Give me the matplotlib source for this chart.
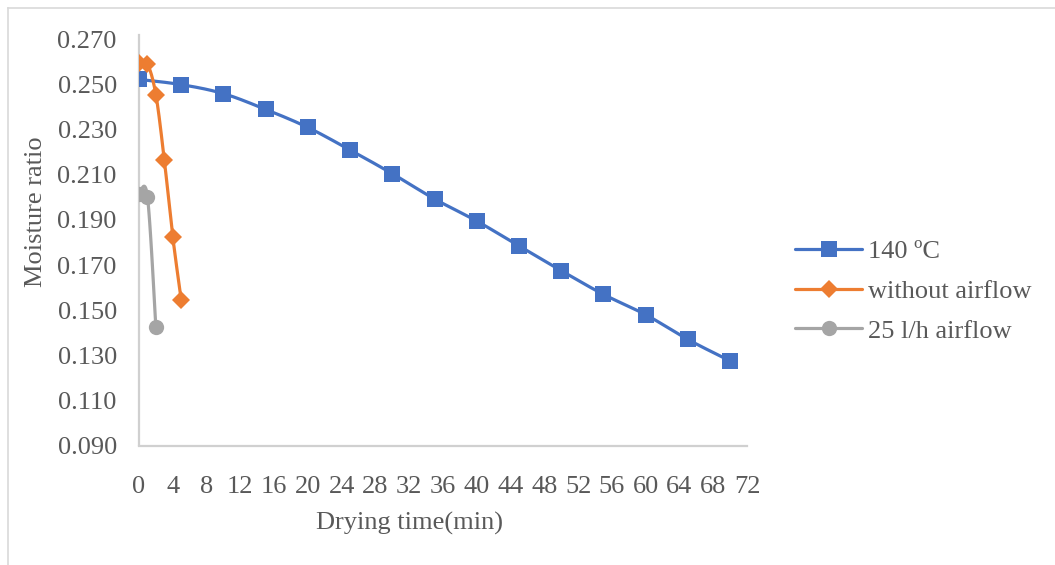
import numpy as np
import matplotlib
matplotlib.use("Agg")
import matplotlib.pyplot as plt
from matplotlib.lines import Line2D

# ---- data ----
t_140 = [0, 5, 10, 15, 20, 25, 30, 35, 40, 45, 50, 55, 60, 65, 70]
mr_140 = [0.2523, 0.2500, 0.2460, 0.2390, 0.2310, 0.2210, 0.2105, 0.1993,
          0.1895, 0.1785, 0.1675, 0.1570, 0.1480, 0.1370, 0.1275]
t_noair = [0, 1, 2, 3, 4, 5]
mr_noair = [0.2594, 0.2590, 0.2455, 0.2165, 0.1825, 0.1545]
t_air25 = [0, 1, 2]
mr_air25 = [0.2015, 0.2003, 0.1425]
series_labels = ["140 ºC", "without airflow", "25 l/h airflow"]
x_ticks = list(range(0, 73, 4))
y_ticks = [0.090, 0.110, 0.130, 0.150, 0.170, 0.190, 0.210, 0.230, 0.250, 0.270]

colors = ["#4472C4", "#ED7D31", "#A5A5A5"]
markers = ["s", "D", "o"]
msizes = [11, 9.5, 11]
text_color = "#595959"
axis_color = "#D0D0D0"

plt.rcParams["font.family"] = ["Liberation Serif", "DejaVu Serif"]
FS = 19


def smooth(xs, ys, n=30):
    """Excel-like smoothed line: cubic Bezier through points (Catmull-Rom tangents)."""
    P = np.column_stack([xs, ys]).astype(float)
    m = len(P)
    out = [P[0]]
    for i in range(m - 1):
        p0 = P[i - 1] if i > 0 else P[i]
        p1 = P[i]
        p2 = P[i + 1]
        p3 = P[i + 2] if i + 2 < m else P[i + 1]
        c1 = p1 + (p2 - p0) / 6.0
        c2 = p2 - (p3 - p1) / 6.0
        tt = np.linspace(0, 1, n)[1:, None]
        seg = ((1 - tt) ** 3) * p1 + 3 * ((1 - tt) ** 2) * tt * c1 + 3 * (1 - tt) * tt ** 2 * c2 + tt ** 3 * p2
        out.extend(seg)
    out = np.array(out)
    return out[:, 0], out[:, 1]


fig = plt.figure(figsize=(10.55, 5.65), dpi=100)
ax = fig.add_axes([139 / 1055, 1 - 445.5 / 565, (747 - 139) / 1055, (445.5 - 39.5) / 565])

data = [(t_140, mr_140), (t_noair, mr_noair), (t_air25, mr_air25)]
handles = []
for (xs, ys), c, mk, ms, lab in zip(data, colors, markers, msizes, series_labels):
    sx, sy = smooth(xs, ys)
    ax.plot(sx, sy, color=c, lw=2.3, solid_capstyle="round", zorder=3)
    ax.plot(xs, ys, linestyle="none", marker=mk, markersize=ms, color=c,
            markeredgewidth=0, zorder=4)
    handles.append(Line2D([], [], color=c, lw=2.3, marker=mk, markersize=ms,
                          markeredgewidth=0, solid_capstyle="round"))

ax.set_xlim(0, 72)
ax.set_ylim(0.09, 0.27)
ax.set_xticks(x_ticks)
ax.set_xticklabels([str(v) for v in x_ticks])
ax.set_yticks(y_ticks)
ax.set_yticklabels([f"{v:.3f}" for v in y_ticks])
ax.tick_params(axis="both", length=0, labelsize=FS, colors=text_color)
ax.tick_params(axis="x", pad=22)
ax.tick_params(axis="y", pad=16)
for s in ["top", "right"]:
    ax.spines[s].set_visible(False)
for s in ["left", "bottom"]:
    ax.spines[s].set_color(axis_color)
    ax.spines[s].set_linewidth(1.6)
ax.spines["left"].set_bounds(0.09, 0.272)
ax.patch.set_alpha(0)

ax.set_xlabel("Drying time(min)", fontsize=FS, color=text_color)
ax.xaxis.set_label_coords((410 - 139) / 608, (445.5 - 512) / 406)
ax.set_ylabel("Moisture ratio", fontsize=FS, color=text_color, va="center")
ax.yaxis.set_label_coords((36 - 139) / 608, (445.5 - 212) / 406)

leg = fig.legend(handles, series_labels, loc="center left",
                 bbox_to_anchor=(795 / 1055, 1 - 291 / 565), frameon=False,
                 fontsize=FS, handlelength=2.55, handletextpad=0.2,
                 labelspacing=0.62, borderpad=0, borderaxespad=0)
for txt in leg.get_texts():
    txt.set_color(text_color)

# chart area border (left and top edges visible)
fig.add_artist(Line2D([7.5 / 1055, 7.5 / 1055], [0, 1 - 7.5 / 565],
                      transform=fig.transFigure, color="#D9D9D9", lw=1.2))
fig.add_artist(Line2D([7.5 / 1055, 1], [1 - 7.5 / 565, 1 - 7.5 / 565],
                      transform=fig.transFigure, color="#D9D9D9", lw=1.2))

fig.savefig("out.png", dpi=100)
